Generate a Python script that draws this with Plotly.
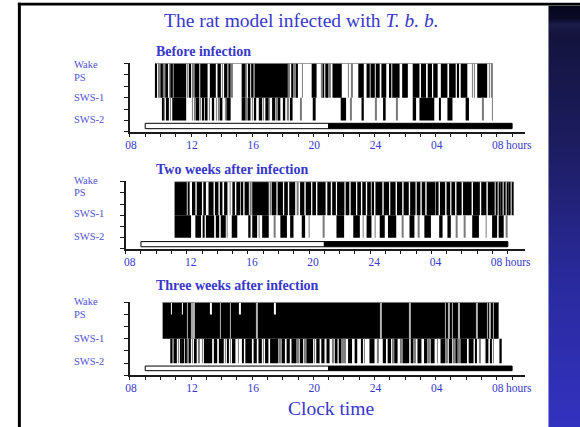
import numpy as np
import plotly.graph_objects as go

W, H = 580, 427

# ------------------------------------------------------------------
# Data: clock hours on a continuous scale (08:00 = 8, midnight = 24,
# 04:00 next morning = 28).  Sleep-wake scoring is stored as blocks of
# dense stage alternation (start, end) and as brief single transitions.
# Upper band = alternation between Wake and SWS-1,
# lower band = alternation between SWS-1 and SWS-2.
# ------------------------------------------------------------------
HOUR_TICKS = list(range(8, 34))
HOUR_LABELS = {8: "08", 12: "12", 16: "16", 20: "20", 24: "24", 28: "04", 32: "08"}

STAGE_NAMES = ["Wake", "PS", "SWS-1", "SWS-2"]
STAGE_LEVELS = [6, 5, 3, 1]

LIGHT_PHASE = (9.0, 21.0)
DARK_PHASE = (21.0, 33.0)

# --- Before infection ---
BEFORE_SPAN = (9.68, 31.72)
BEFORE_UPPER = [
    (9.69, 9.77), (9.99, 10.16), (10.31, 10.49), (10.64, 10.81), (10.85, 11.68),
    (11.85, 12.00), (12.22, 12.54), (12.60, 13.08), (13.23, 13.62), (13.73, 13.95),
    (14.16, 14.38), (14.44, 14.59), (15.31, 15.57), (15.74, 15.87), (15.93, 16.09),
    (16.15, 18.16), (18.20, 18.33), (18.55, 18.70), (18.92, 18.98), (19.89, 20.21),
    (20.62, 20.71), (20.78, 20.99), (21.25, 21.86), (22.94, 23.30), (23.48, 23.69),
    (23.74, 24.02), (24.08, 24.34), (24.45, 24.77), (24.95, 25.10), (25.16, 25.64),
    (25.81, 26.18), (26.50, 26.94), (27.04, 27.37), (27.48, 27.76), (27.84, 28.13),
    (28.34, 28.77), (28.88, 29.31), (29.42, 29.53), (29.64, 30.07), (30.72, 31.37),
]
BEFORE_UPPER_BRIEF = [9.88, 10.23, 10.57, 11.77, 12.12, 14.05, 14.68, 15.62, 18.40,
                      18.80, 19.28, 20.55, 21.09, 22.29, 22.52, 30.39, 30.52, 31.52, 31.69]
BEFORE_UPPER_BREAKS = []
BEFORE_LOWER = [
    (10.12, 10.18), (10.42, 10.55), (10.77, 11.68), (12.32, 12.54), (12.71, 12.86),
    (12.97, 13.08), (13.36, 13.51), (13.95, 14.05), (14.31, 14.59), (15.31, 15.57),
    (15.78, 15.89), (16.17, 16.26), (16.43, 16.65), (16.86, 17.08), (17.30, 17.51),
    (17.73, 17.84), (18.05, 18.16), (18.53, 18.64), (19.96, 20.15), (21.79, 22.14),
    (23.15, 23.30), (24.56, 24.73), (26.50, 26.72), (26.94, 27.91), (28.23, 28.34),
    (28.77, 29.10), (29.96, 30.18),
]
BEFORE_LOWER_BRIEF = [10.27, 10.64, 12.10, 12.25, 12.62, 13.19, 13.65, 13.82, 14.26,
                      15.66, 16.00, 16.72, 17.12, 17.60, 18.35, 19.17, 22.45, 24.08,
                      25.46, 31.10, 31.70]
BEFORE_NOTCHES = []

# --- Two weeks after infection ---
WEEK2_SPAN = (11.20, 33.35)
WEEK2_UPPER = [
    (11.20, 12.00), (12.06, 12.17), (12.34, 12.56), (12.65, 12.99), (13.08, 13.25),
    (13.42, 13.75), (13.84, 14.07), (14.16, 14.33), (14.44, 14.66), (14.98, 15.15),
    (15.24, 15.48), (15.56, 15.69), (15.78, 16.06), (16.28, 17.36), (17.57, 17.86),
    (17.94, 18.29), (18.37, 18.61), (18.70, 19.09), (19.41, 19.69), (19.78, 20.13),
    (20.21, 20.45), (20.54, 21.08), (21.19, 21.42), (21.51, 21.75), (21.83, 22.31),
    (22.39, 22.63), (22.72, 23.07), (23.15, 23.39), (23.48, 23.71), (23.80, 24.04),
    (24.12, 24.25), (24.34, 24.79), (24.88, 25.23), (25.31, 25.66), (25.75, 26.09),
    (26.18, 26.52), (26.61, 26.96), (27.04, 27.28), (27.37, 27.60), (27.69, 28.25),
    (28.34, 28.47), (28.56, 28.90), (28.99, 29.23), (29.31, 29.55), (29.64, 29.98),
    (30.07, 30.63), (30.72, 31.17), (31.26, 31.60), (31.69, 32.14), (32.23, 32.32),
    (32.40, 32.49), (32.58, 32.66), (32.77, 32.84), (32.94, 33.01), (33.10, 33.16),
    (33.27, 33.35),
]
WEEK2_UPPER_BRIEF = [14.85, 16.17, 17.47, 19.24]
WEEK2_UPPER_BREAKS = []
WEEK2_LOWER = [
    (11.20, 12.28), (12.56, 12.93), (13.04, 13.14), (13.25, 13.79), (13.90, 14.12),
    (14.22, 14.55), (14.94, 15.30), (16.02, 16.17), (16.28, 16.60), (16.93, 17.36),
    (18.12, 18.55), (18.76, 18.98), (19.52, 19.74), (21.79, 22.29), (22.89, 23.32),
    (23.76, 24.08), (24.62, 24.95), (25.16, 25.70), (26.57, 26.89), (27.54, 27.97),
    (28.51, 28.73), (29.05, 29.27), (30.67, 31.11), (31.97, 32.30), (32.40, 32.73),
]
WEEK2_LOWER_BRIEF = [14.65, 16.73, 17.75, 20.01, 20.96, 23.53, 24.33, 26.11, 27.16,
                     29.66, 30.18, 31.58, 32.93]
WEEK2_NOTCHES = []

# --- Three weeks after infection ---
WEEK3_SPAN = (10.14, 32.12)
WEEK3_UPPER = [(10.14, 32.12)]
WEEK3_UPPER_BRIEF = []
# brief interruptions of the continuous wake/SWS-1 alternation
WEEK3_UPPER_BREAKS = [11.76, 12.03, 12.08, 12.19, 13.92, 14.57, 16.30, 24.43, 26.33,
                      28.64, 28.86, 29.08, 29.53, 29.57, 30.70, 31.39, 31.56, 31.78]
WEEK3_LOWER = [
    (10.64, 10.79), (10.94, 11.07), (11.29, 11.37), (11.46, 11.55), (11.63, 11.72),
    (11.87, 11.98), (12.19, 12.37), (12.84, 13.38), (13.49, 13.71), (13.82, 14.14),
    (14.36, 14.46), (14.68, 14.90), (15.33, 15.44), (15.55, 15.98), (16.09, 16.30),
    (16.41, 16.63), (16.84, 17.06), (17.17, 17.71), (17.92, 18.14), (18.25, 18.46),
    (18.57, 18.90), (19.11, 19.33), (19.54, 19.98), (20.19, 20.41), (20.52, 20.73),
    (20.95, 21.06), (21.40, 21.58), (21.66, 21.84), (22.27, 22.53), (22.70, 22.87),
    (23.13, 23.24), (23.67, 24.00), (24.54, 24.75), (24.86, 25.08), (25.29, 25.51),
    (25.83, 26.27), (26.37, 26.55), (26.81, 27.07), (27.24, 27.46), (27.67, 27.93),
    (28.32, 28.64), (28.86, 29.08), (29.29, 29.44), (29.62, 30.05), (30.16, 30.48),
    (30.59, 30.70), (31.35, 31.45), (31.56, 31.67), (32.17, 32.32),
]
WEEK3_LOWER_BRIEF = [10.85, 11.16, 11.80, 12.09, 12.52, 12.73, 14.25, 14.57, 15.11,
                     16.73, 17.81, 19.00, 19.44, 20.08, 20.84, 21.29, 21.94, 22.05,
                     23.35, 24.21, 25.19, 25.73, 26.63, 27.56, 28.10, 28.75, 29.18,
                     29.51, 30.91, 31.24, 31.78]
# short returns to wake breaking the top of the wake/PS band
WEEK3_NOTCHES = [10.72, 11.44, 13.28, 15.18, 17.49]

PANELS = [
    dict(name="Before infection", span=BEFORE_SPAN, upper=BEFORE_UPPER,
         upper_brief=BEFORE_UPPER_BRIEF, upper_breaks=BEFORE_UPPER_BREAKS,
         lower=BEFORE_LOWER, lower_brief=BEFORE_LOWER_BRIEF, notches=BEFORE_NOTCHES),
    dict(name="Two weeks after infection", span=WEEK2_SPAN, upper=WEEK2_UPPER,
         upper_brief=WEEK2_UPPER_BRIEF, upper_breaks=WEEK2_UPPER_BREAKS,
         lower=WEEK2_LOWER, lower_brief=WEEK2_LOWER_BRIEF, notches=WEEK2_NOTCHES),
    dict(name="Three weeks after infection", span=WEEK3_SPAN, upper=WEEK3_UPPER,
         upper_brief=WEEK3_UPPER_BRIEF, upper_breaks=WEEK3_UPPER_BREAKS,
         lower=WEEK3_LOWER, lower_brief=WEEK3_LOWER_BRIEF, notches=WEEK3_NOTCHES),
]

# ------------------------------------------------------------------
# Styling and panel geometry (pixels in the 580 x 427 page)
# ------------------------------------------------------------------
FONT = "Liberation Serif, Times New Roman, serif"
BLUE = "#3838cc"
LABEL_BLUE = "#5252d6"
GREY = "#7a7a7a"
PX_PER_HOUR = 15.42

# label_px: vertical pixel nudge of the stage names (Wake, PS, SWS-1, SWS-2)
GEOM = [
    dict(x0=126.0, x1=525.0, top=63.3, bottom=132.0, bar=(0.29, 0.76), sub_y=51.7,
         label_shift=1, label_px=[-1.5, -2.5, 0, 1.5]),
    dict(x0=121.7, x1=525.0, top=181.7, bottom=249.0, bar=(0.20, 0.66), sub_y=169.3,
         label_shift=4, label_px=[1, 0, 2, 1.5]),
    dict(x0=126.0, x1=525.0, top=302.3, bottom=375.3, bar=(0.38, 0.76), sub_y=285.0,
         label_shift=1, label_px=[0.5, -0.5, 0.5, 1.5]),
]
Y_HEADROOM = 0.05


def px_x(px):
    return px / W


def px_y(py):
    return 1 - py / H


def block_bars(blocks, lo, hi, color, xa, ya):
    s = np.array([b[0] for b in blocks], dtype=float)
    e = np.array([b[1] for b in blocks], dtype=float)
    return go.Bar(x=(s + e) / 2, width=e - s, y=np.full(len(s), hi - lo), base=lo,
                  marker=dict(color=color, line=dict(width=0)),
                  xaxis=xa, yaxis=ya, hoverinfo="skip", showlegend=False)


def event_bars(times, lo, hi, color, xa, ya, dur=0.035):
    t = np.array(times, dtype=float)
    return go.Bar(x=t, width=np.full(len(t), dur), y=np.full(len(t), hi - lo), base=lo,
                  marker=dict(color=color, line=dict(width=0)),
                  xaxis=xa, yaxis=ya, hoverinfo="skip", showlegend=False)


fig = go.Figure()
annotations = []
shapes = []
layout_axes = {}

for i, (p, g) in enumerate(zip(PANELS, GEOM), start=1):
    xa = "x" if i == 1 else f"x{i}"
    ya = "y" if i == 1 else f"y{i}"
    xkey = "xaxis" if i == 1 else f"xaxis{i}"
    ykey = "yaxis" if i == 1 else f"yaxis{i}"

    wake, ps, sws1, sws2 = STAGE_LEVELS

    fig.add_trace(block_bars(p["upper"], sws1, wake, "black", xa, ya))
    fig.add_trace(block_bars(p["lower"], sws2, sws1, "black", xa, ya))
    if p["upper_brief"]:
        fig.add_trace(event_bars(p["upper_brief"], sws1, wake, GREY, xa, ya))
    if p["lower_brief"]:
        fig.add_trace(event_bars(p["lower_brief"], sws2, sws1, GREY, xa, ya))
    if p["upper_breaks"]:
        fig.add_trace(event_bars(p["upper_breaks"], sws1, wake, "#b4b4b4", xa, ya, dur=0.03))
    if p["notches"]:
        fig.add_trace(event_bars(p["notches"], ps, wake, "white", xa, ya, dur=0.05))

    # recording frame along the wake level
    fig.add_trace(go.Scatter(x=list(p["span"]), y=[wake, wake], mode="lines",
                             line=dict(color="#8a8a8a", width=1),
                             xaxis=xa, yaxis=ya, hoverinfo="skip", showlegend=False))

    # light / dark bar
    lo, hi = g["bar"]
    phases = [LIGHT_PHASE, DARK_PHASE]
    fig.add_trace(go.Bar(
        x=[(a + b) / 2 for a, b in phases], width=[b - a for a, b in phases],
        y=[hi - lo] * 2, base=lo,
        marker=dict(color=["white", "black"], line=dict(color="black", width=1)),
        xaxis=xa, yaxis=ya, hoverinfo="skip", showlegend=False))

    unit = (g["bottom"] - g["top"]) / 6.0
    top_px = g["top"] - Y_HEADROOM * unit
    x_max = 8 + (g["x1"] - g["x0"]) / PX_PER_HOUR

    layout_axes[xkey] = dict(
        domain=[px_x(g["x0"]), px_x(g["x1"])], range=[8, x_max], anchor=ya,
        showline=True, linecolor="#1a1a1a", linewidth=1.5,
        ticks="outside", ticklen=3, tickwidth=1, tickcolor="#1a1a1a",
        tickmode="array", tickvals=HOUR_TICKS,
        ticktext=[HOUR_LABELS.get(h, "") for h in HOUR_TICKS],
        ticklabelshift=g["label_shift"], ticklabelstandoff=-2,
        tickfont=dict(family=FONT, size=11.5, color=BLUE),
        showgrid=False, zeroline=False, fixedrange=True)
    layout_axes[ykey] = dict(
        domain=[px_y(g["bottom"]), px_y(top_px)], range=[0, 6 + Y_HEADROOM], anchor=xa,
        showline=True, linecolor="#1a1a1a", linewidth=1.5,
        ticks="outside", ticklen=4, tickwidth=1, tickcolor="#1a1a1a",
        tickmode="array", tickvals=[0, 1, 2, 3, 4, 5, 6], showticklabels=False,
        showgrid=False, zeroline=False, fixedrange=True)

    # stage names
    for name, lvl, dy in zip(STAGE_NAMES, STAGE_LEVELS, g["label_px"]):
        annotations.append(dict(
            x=px_x(67.7), xref="paper", xanchor="left", y=lvl, yref=ya, yanchor="middle",
            yshift=dy,
            text=name, showarrow=False, font=dict(family=FONT, size=10.5, color=LABEL_BLUE)))

    # "hours" after the last tick label
    annotations.append(dict(
        x=32, xref=xa, xanchor="left", xshift=6 + g["label_shift"],
        y=px_y(g["bottom"] + 12.5), yref="paper", yanchor="middle",
        text="hours", showarrow=False, font=dict(family=FONT, size=11.5, color=BLUE)))

    # panel heading
    annotations.append(dict(
        x=px_x(150), xref="paper", xanchor="left", y=px_y(g["sub_y"]), yref="paper",
        yanchor="middle", text=p["name"], showarrow=False,
        font=dict(family=FONT, size=14, color=BLUE, weight="bold")))

annotations.append(dict(
    x=px_x(299), xref="paper", xanchor="center", y=px_y(20), yref="paper", yanchor="middle",
    text="The rat model infected with <i>T. b. b.</i>", showarrow=False,
    font=dict(family=FONT, size=19.5, color=BLUE)))
annotations.append(dict(
    x=px_x(329), xref="paper", xanchor="center", y=px_y(408), yref="paper", yanchor="middle",
    text="Clock time", showarrow=False, font=dict(family=FONT, size=19.5, color=BLUE)))

# slide frame: black rule on the left and top
shapes.append(dict(type="rect", xref="paper", yref="paper", x0=px_x(13), x1=px_x(16),
                   y0=0, y1=px_y(2.7), fillcolor="black", line=dict(width=0)))
shapes.append(dict(type="rect", xref="paper", yref="paper", x0=px_x(13), x1=1,
                   y0=px_y(5.4), y1=px_y(2.7), fillcolor="black", line=dict(width=0)))

# dark blue band down the right edge, drawn as a smooth vertical gradient
band_top, band_bottom = 5.4, float(H)
stops_y = [5.4, 18, 24, 34, 140, 280, 427]
stops_c = ["rgb(6,6,28)", "rgb(10,10,40)", "rgb(28,28,74)", "rgb(20,20,62)",
           "rgb(28,28,95)", "rgb(42,42,158)", "rgb(50,50,192)"]
band_scale = [[(yv - band_top) / (band_bottom - band_top), c] for yv, c in zip(stops_y, stops_c)]
rows = np.linspace(band_top, band_bottom, 200)
fig.add_trace(go.Heatmap(
    z=np.column_stack([rows, rows]), x=[0, 1], y=rows,
    colorscale=band_scale, zmin=band_top, zmax=band_bottom, zsmooth="best",
    showscale=False, hoverinfo="skip", xaxis="x4", yaxis="y4"))
layout_axes["xaxis4"] = dict(domain=[px_x(548), 1], range=[0, 1], visible=False,
                             fixedrange=True, anchor="y4")
layout_axes["yaxis4"] = dict(domain=[0, px_y(band_top)], range=[band_bottom, band_top],
                             visible=False, fixedrange=True, anchor="x4")

fig.update_layout(
    width=W, height=H, autosize=False,
    margin=dict(l=0, r=0, t=0, b=0, pad=0),
    paper_bgcolor="white", plot_bgcolor="rgba(0,0,0,0)",
    barmode="overlay", showlegend=False,
    annotations=annotations, shapes=shapes,
    **layout_axes,
)

fig.write_html("out.html", config={"displayModeBar": False})
